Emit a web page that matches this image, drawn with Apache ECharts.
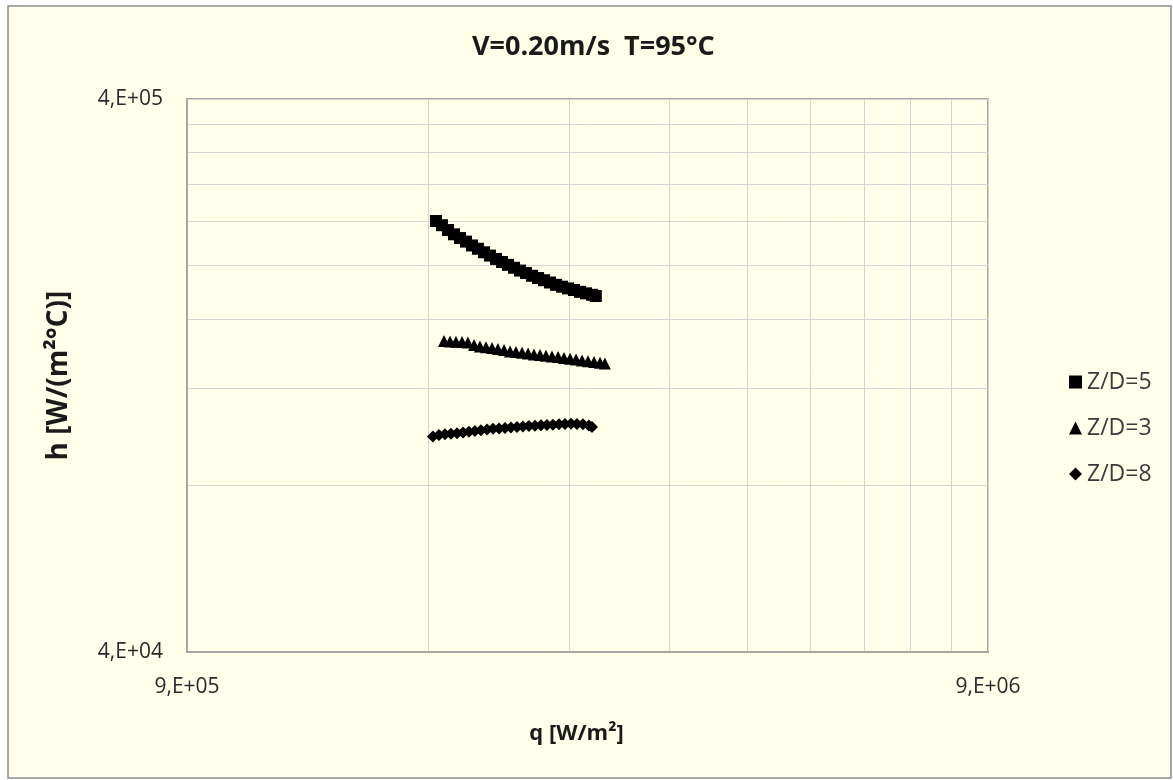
<!DOCTYPE html>
<html>
<head>
<meta charset="utf-8">
<script src="https://cdn.jsdelivr.net/npm/echarts@6/dist/echarts.min.js"></script>
<style>
  html, body { margin: 0; padding: 0; background: #ffffff; }
  #chart { width: 1173px; height: 780px; }
</style>
</head>
<body>
<div id="chart"></div>
<script>
// Heat flux q [W/m2] and heat transfer coefficient h [W/(m2 °C)] per Z/D
const qZD5 = [1.841e6, 1.873e6, 1.906e6, 1.939e6, 1.973e6, 2.007e6, 2.042e6, 2.077e6, 2.114e6, 2.150e6,
              2.188e6, 2.226e6, 2.265e6, 2.304e6, 2.344e6, 2.385e6, 2.427e6, 2.469e6, 2.512e6, 2.555e6,
              2.600e6, 2.645e6, 2.691e6, 2.738e6, 2.786e6, 2.834e6, 2.884e6, 2.915e6];
const hZD5 = [240700, 236500, 231800, 227700, 224200, 220900, 217400, 214400, 211300, 208400,
              205500, 202900, 200500, 198100, 195800, 193800, 191600, 189800, 188100, 186300,
              184500, 183100, 181800, 180600, 179200, 178100, 177000, 176100];

const qZD3 = [1.884e6, 1.917e6, 1.950e6, 1.984e6, 2.018e6, 2.054e6, 2.089e6, 2.126e6, 2.163e6, 2.200e6,
              2.239e6, 2.278e6, 2.317e6, 2.358e6, 2.399e6, 2.440e6, 2.483e6, 2.526e6, 2.570e6, 2.615e6,
              2.660e6, 2.707e6, 2.754e6, 2.802e6, 2.850e6, 2.900e6, 2.950e6, 2.992e6];
const hZD3 = [146000, 145800, 145600, 145400, 145100, 143600, 142700, 142300, 141850, 141300,
              140700, 139800, 139500, 139000, 138600, 138000, 137800, 137400, 136900, 136600,
              136100, 135600, 135200, 134700, 134200, 133800, 133400, 133000];

const qZD8 = [1.825e6, 1.857e6, 1.889e6, 1.922e6, 1.956e6, 1.990e6, 2.024e6, 2.059e6, 2.095e6, 2.132e6,
              2.169e6, 2.207e6, 2.245e6, 2.284e6, 2.324e6, 2.364e6, 2.405e6, 2.447e6, 2.490e6, 2.533e6,
              2.577e6, 2.622e6, 2.668e6, 2.714e6, 2.761e6, 2.809e6, 2.858e6, 2.883e6];
const hZD8 = [98100, 98700, 99000, 99200, 99500, 99800, 100100, 100400, 100700, 101000,
              101300, 101450, 101650, 101900, 102100, 102300, 102500, 102650, 102800, 102950,
              103050, 103250, 103350, 103450, 103350, 103250, 102700, 102100];

const seriesNames = ['Z/D=5', 'Z/D=3', 'Z/D=8'];

// Axis ranges, gridline positions and tick labels
const xMin = 9e5, xMax = 9e6;
const yMin = 4e4, yMax = 4e5;
const xGridValues = [9e5, 1.8e6, 2.7e6, 3.6e6, 4.5e6, 5.4e6, 6.3e6, 7.2e6, 8.1e6, 9e6];
const yGridValues = [4e4, 8e4, 1.2e5, 1.6e5, 2e5, 2.4e5, 2.8e5, 3.2e5, 3.6e5, 4e5];
const xTickValues = [9e5, 9e6];
const xTickLabels = ['9,E+05', '9,E+06'];
const yTickValues = [4e4, 4e5];
const yTickLabels = ['4,E+04', '4,E+05'];

const FONT = '"Open Sans", "DejaVu Sans", sans-serif';

function pickLabel(values, labels) {
  return function (v) {
    let best = 0, bestErr = Infinity;
    values.forEach((t, i) => {
      const err = Math.abs(Math.log(v / t));
      if (err < bestErr) { bestErr = err; best = i; }
    });
    return bestErr < 0.01 ? labels[best] : '';
  };
}

function pairs(xs, ys) { return xs.map((x, i) => [x, ys[i]]); }

const chart = echarts.init(document.getElementById('chart'), null, { renderer: 'canvas' });

chart.setOption({
  backgroundColor: '#ffffff',
  animation: false,
  graphic: [{
    type: 'rect',
    z: -10,
    shape: { x: 8, y: 6, width: 1163, height: 772 },
    style: { fill: '#FFFFEA', stroke: '#8C8C8C', lineWidth: 1.5 }
  }],
  title: {
    text: 'V=0.20m/s  T=95°C',
    left: 472, top: 29,
    padding: [5, 0, 5, 0],
    textStyle: { fontFamily: FONT, fontSize: 27, fontWeight: 'bold', color: '#1a1a1a' }
  },
  grid: {
    left: 187, top: 99, right: 185, bottom: 128,
    show: true, borderColor: '#A6A6A6', borderWidth: 2, backgroundColor: 'transparent'
  },
  legend: {
    orient: 'vertical',
    left: 1064, top: 365,
    itemWidth: 13, itemHeight: 13, itemGap: 22,
    data: seriesNames,
    itemStyle: { opacity: 1 },
    textStyle: { fontFamily: FONT, fontSize: 23, color: '#3a3a3a', lineHeight: 24 }
  },
  xAxis: {
    type: 'log', logBase: 10, min: xMin, max: xMax,
    name: 'q [W/m²]', nameLocation: 'middle', nameGap: 71,
    nameTextStyle: { fontFamily: FONT, fontSize: 22, fontWeight: 'bold', color: '#1a1a1a',
                     padding: [0, 22, 0, 0] },
    axisLine: { show: true, lineStyle: { color: '#A6A6A6', width: 2 } },
    axisTick: { show: false, customValues: xGridValues },
    axisLabel: {
      customValues: xTickValues, margin: 25,
      fontFamily: FONT, fontSize: 21, color: '#2a2a2a',
      formatter: pickLabel(xTickValues, xTickLabels)
    },
    splitLine: { show: true, lineStyle: { color: '#D4D4D4', width: 1 } },
    minorSplitLine: { show: false }
  },
  yAxis: {
    type: 'log', logBase: 10, min: yMin, max: yMax,
    name: 'h [W/(m²°C)]', nameLocation: 'middle', nameGap: 114,
    nameTextStyle: { fontFamily: FONT, fontSize: 28, fontWeight: 'bold', color: '#1a1a1a' },
    axisLine: { show: true, lineStyle: { color: '#A6A6A6', width: 2 } },
    axisTick: { show: false, customValues: yGridValues },
    axisLabel: {
      customValues: yTickValues, margin: 24,
      fontFamily: FONT, fontSize: 21, color: '#2a2a2a',
      formatter: pickLabel(yTickValues, yTickLabels)
    },
    splitLine: { show: true, lineStyle: { color: '#D4D4D4', width: 1 } }
  },
  series: [
    { name: seriesNames[0], type: 'scatter', symbol: 'rect', symbolSize: 12,
      itemStyle: { color: '#000000', opacity: 1 }, data: pairs(qZD5, hZD5) },
    { name: seriesNames[1], type: 'scatter', symbol: 'triangle', symbolSize: 12,
      itemStyle: { color: '#000000', opacity: 1 }, data: pairs(qZD3, hZD3) },
    { name: seriesNames[2], type: 'scatter', symbol: 'diamond', symbolSize: 12,
      itemStyle: { color: '#000000', opacity: 1 }, data: pairs(qZD8, hZD8) }
  ]
});
</script>
</body>
</html>
